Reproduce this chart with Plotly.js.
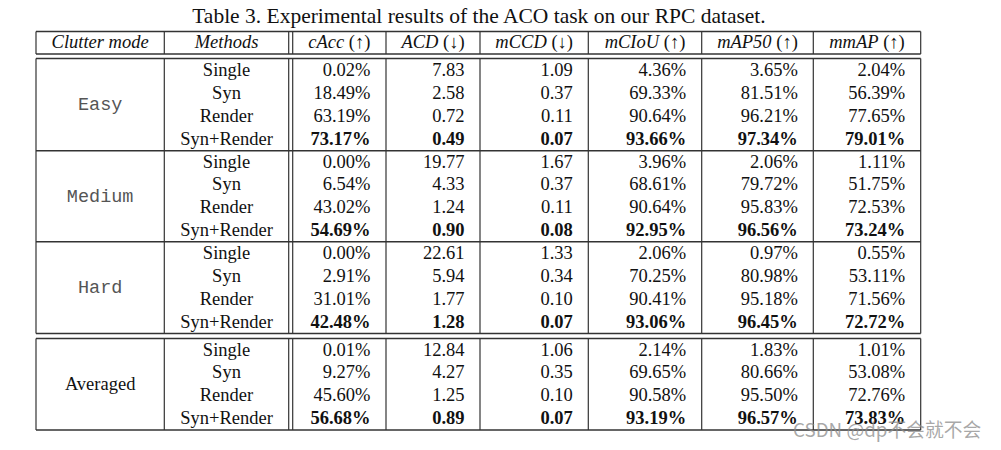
<!DOCTYPE html>
<html>
<head>
<meta charset="utf-8">
<script src="https://cdn.plot.ly/plotly-3.0.1.min.js"></script>
<style>
  html, body { margin: 0; padding: 0; background: #fff; }
  #tbl { width: 1001px; height: 450px; }
</style>
</head>
<body>
<div id="tbl"></div>
<script>
// table contents
var clutterModes = ['Easy', 'Medium', 'Hard', 'Averaged'];
var methods = ['Single', 'Syn', 'Render', 'Syn+Render'];
var headers = ['<i>Clutter mode</i>', '<i>Methods</i>', '<i>cAcc</i> (↑)', '<i>ACD</i> (↓)',
               '<i>mCCD</i> (↓)', '<i>mCIoU</i> (↑)', '<i>mAP50</i> (↑)', '<i>mmAP</i> (↑)'];

var cAcc  = [0.02, 18.49, 63.19, 73.17,  0.00, 6.54, 43.02, 54.69,  0.00, 2.91, 31.01, 42.48,  0.01, 9.27, 45.60, 56.68];
var ACD   = [7.83, 2.58, 0.72, 0.49,  19.77, 4.33, 1.24, 0.90,  22.61, 5.94, 1.77, 1.28,  12.84, 4.27, 1.25, 0.89];
var mCCD  = [1.09, 0.37, 0.11, 0.07,  1.67, 0.37, 0.11, 0.08,  1.33, 0.34, 0.10, 0.07,  1.06, 0.35, 0.10, 0.07];
var mCIoU = [4.36, 69.33, 90.64, 93.66,  3.96, 68.61, 90.64, 92.95,  2.06, 70.25, 90.41, 93.06,  2.14, 69.65, 90.58, 93.19];
var mAP50 = [3.65, 81.51, 96.21, 97.34,  2.06, 79.72, 95.83, 96.56,  0.97, 80.98, 95.18, 96.45,  1.83, 80.66, 95.50, 96.57];
var mmAP  = [2.04, 56.39, 77.65, 79.01,  1.11, 51.75, 72.53, 73.24,  0.55, 53.11, 71.56, 72.72,  1.01, 53.08, 72.76, 73.83];

// layout of the grid (pixel units, axes map 1:1 to the page)
var colEdges = [36, 164.3, 288.7, 386, 480, 588.3, 701.7, 813.3, 920.7];
var dblGap = 4;
var headTop = 31.5, headBot = 54;
var blockTops = [58.5, 150.7, 241.7, 338.5];
var blockBots = [150.7, 241.7, 333.5, 430];
var rightPad = 15.5;
var serif = 'Liberation Serif, Times New Roman, serif';
var mono = 'Liberation Mono, Courier New, monospace';
var fs = 18.5;
var lineCol = '#333';

function rowY(b, i) {
  var h = (blockBots[b] - blockTops[b]) / methods.length;
  return blockTops[b] + (i + 0.5) * h + 1;
}

var rowsY = [], methodText = [];
clutterModes.forEach(function (m, b) {
  methods.forEach(function (name, i) {
    rowsY.push(rowY(b, i));
    methodText.push(name);
  });
});

var traces = [];

// header
var headX = [];
for (var c = 0; c < headers.length; c++) {
  var l = colEdges[c] + (c === 2 ? dblGap : 0);
  headX.push((l + colEdges[c + 1]) / 2);
}
traces.push({
  x: headX, y: headers.map(function () { return (headTop + headBot) / 2 + 1; }),
  text: headers, mode: 'text', textposition: 'middle center',
  textfont: {family: serif, size: fs, color: '#111'}, hoverinfo: 'skip'
});

// clutter mode column
traces.push({
  x: clutterModes.map(function () { return (colEdges[0] + colEdges[1]) / 2; }),
  y: clutterModes.map(function (m, b) { return (blockTops[b] + blockBots[b]) / 2 + 1; }),
  text: clutterModes, mode: 'text', textposition: 'middle center',
  textfont: {
    family: clutterModes.map(function (m) { return m === 'Averaged' ? serif : mono; }),
    size: fs, color: clutterModes.map(function (m) { return m === 'Averaged' ? '#111' : '#555'; })
  },
  hoverinfo: 'skip'
});

// methods column
traces.push({
  x: methodText.map(function () { return (colEdges[1] + colEdges[2]) / 2; }),
  y: rowsY, text: methodText, mode: 'text', textposition: 'middle center',
  textfont: {family: serif, size: fs, color: '#111'}, hoverinfo: 'skip'
});

// metric columns
var metrics = [
  {vals: cAcc, pct: true}, {vals: ACD, pct: false}, {vals: mCCD, pct: false},
  {vals: mCIoU, pct: true}, {vals: mAP50, pct: true}, {vals: mmAP, pct: true}
];
metrics.forEach(function (m, k) {
  var txt = m.vals.map(function (v, j) {
    var s = v.toFixed(2) + (m.pct ? '%' : '');
    return (j % methods.length === methods.length - 1) ? '<b>' + s + '</b>' : s;
  });
  traces.push({
    x: m.vals.map(function () { return colEdges[k + 3] - rightPad; }),
    y: rowsY, text: txt, mode: 'text', textposition: 'middle left',
    textfont: {family: serif, size: fs, color: '#111'}, hoverinfo: 'skip'
  });
});

// rules
var shapes = [];
function hline(y) {
  shapes.push({type: 'line', xref: 'x', yref: 'y', x0: colEdges[0], x1: colEdges[colEdges.length - 1],
               y0: y, y1: y, line: {color: lineCol, width: 1.4}});
}
function vlines(y0, y1) {
  colEdges.forEach(function (x, c) {
    var xs = c === 2 ? [x, x + dblGap] : [x];
    xs.forEach(function (xx) {
      shapes.push({type: 'line', xref: 'x', yref: 'y', x0: xx, x1: xx, y0: y0, y1: y1,
                   line: {color: lineCol, width: 1.2}});
    });
  });
}
hline(headTop); hline(headBot);
vlines(headTop, headBot);
hline(blockTops[0]); hline(blockBots[0]); hline(blockBots[1]); hline(blockBots[2]);
vlines(blockTops[0], blockBots[2]);
hline(blockTops[3]); hline(blockBots[3]);
vlines(blockTops[3], blockBots[3]);

var layout = {
  width: 1001, height: 450,
  margin: {l: 0, r: 0, t: 0, b: 0},
  paper_bgcolor: '#fff', plot_bgcolor: '#fff',
  showlegend: false,
  title: {
    text: 'Table 3. Experimental results of the ACO task on our RPC dataset.',
    font: {family: serif, size: 21.5, color: '#111'},
    x: 0.4785, xanchor: 'center', xref: 'paper',
    y: 1 - 15.5 / 450, yanchor: 'middle', yref: 'container'
  },
  xaxis: {range: [0, 1001], visible: false, fixedrange: true},
  yaxis: {range: [450, 0], visible: false, fixedrange: true},
  shapes: shapes,
  annotations: [{
    text: 'CSDN @dp不会就不会', xref: 'paper', yref: 'paper',
    x: 984 / 1001, y: 1 - 428 / 450, xanchor: 'right', yanchor: 'middle',
    showarrow: false,
    font: {family: 'Noto Sans CJK SC, Noto Sans, sans-serif', size: 18.8, color: 'rgba(140,140,140,0.75)'}
  }]
};

Plotly.newPlot('tbl', traces, layout, {displayModeBar: false, staticPlot: true});
</script>
</body>
</html>
